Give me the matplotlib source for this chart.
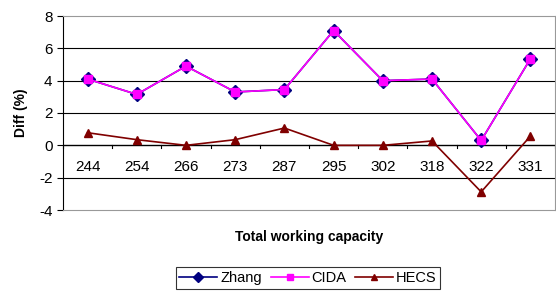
import matplotlib.pyplot as plt

plt.rcParams['font.family'] = ['Liberation Sans', 'DejaVu Sans']
plt.rcParams['axes.unicode_minus'] = False

capacity = ['244', '254', '266', '273', '287', '295', '302', '318', '322', '331']
zhang = [4.1, 3.15, 4.9, 3.3, 3.45, 7.1, 4.0, 4.1, 0.3, 5.35]
cida = [4.1, 3.15, 4.9, 3.3, 3.45, 7.1, 4.0, 4.1, 0.3, 5.35]
hecs = [0.78, 0.35, 0.0, 0.35, 1.07, 0.0, 0.0, 0.27, -2.88, 0.57]

fig = plt.figure(figsize=(5.56, 2.94), dpi=100)
ax = fig.add_axes([63 / 556, 1 - 210 / 294, 492 / 556, 194 / 294])

x = range(len(capacity))
ax.plot(x, zhang, color='#000080', marker='D', markersize=7, lw=1.2, label='Zhang', zorder=3)
ax.plot(x, cida, color='#FF00FF', marker='s', markersize=6, lw=1.2, label='CIDA', zorder=4)
ax.plot(x, hecs, color='#800000', marker='^', markersize=6, lw=1.2, label='HECS', zorder=3)

ax.set_xlim(-0.5, len(capacity) - 0.5)
ax.set_ylim(-4, 8)
ax.set_yticks(range(-4, 9, 2))
for v in [-2, 2, 4, 6]:
    ax.axhline(v, color='black', lw=0.8, zorder=1)
ax.axhline(0, color='black', lw=1.0, zorder=2)

# category labels sit just under the zero line
ax.set_xticks([])
for i, lab in enumerate(capacity):
    ax.text(i, -0.9, lab, ha='center', va='top', fontsize=11)
for i in range(len(capacity) + 1):
    ax.plot([i - 0.5, i - 0.5], [0, -0.18], color='black', lw=0.8, clip_on=False)

for side in ['top', 'right', 'bottom']:
    ax.spines[side].set_color('#999999')
ax.spines['left'].set_color('black')
ax.tick_params(axis='y', labelsize=11, length=4, width=0.8)

ax.set_ylabel('Diff (%)', fontsize=10, fontweight='bold', labelpad=8)
fig.text(309 / 556, 1 - 237 / 294, 'Total working capacity', ha='center', va='center',
         fontsize=10, fontweight='bold')

leg = fig.legend(loc='center', bbox_to_anchor=(308 / 556, 1 - 278 / 294), ncol=3,
                 fontsize=10.5, frameon=True, fancybox=False, edgecolor='black',
                 handlelength=2.6, handletextpad=0.2, columnspacing=0.6,
                 borderpad=0.25, markerscale=0.8)
leg.get_frame().set_linewidth(0.8)

fig.savefig('out.png', dpi=100)
